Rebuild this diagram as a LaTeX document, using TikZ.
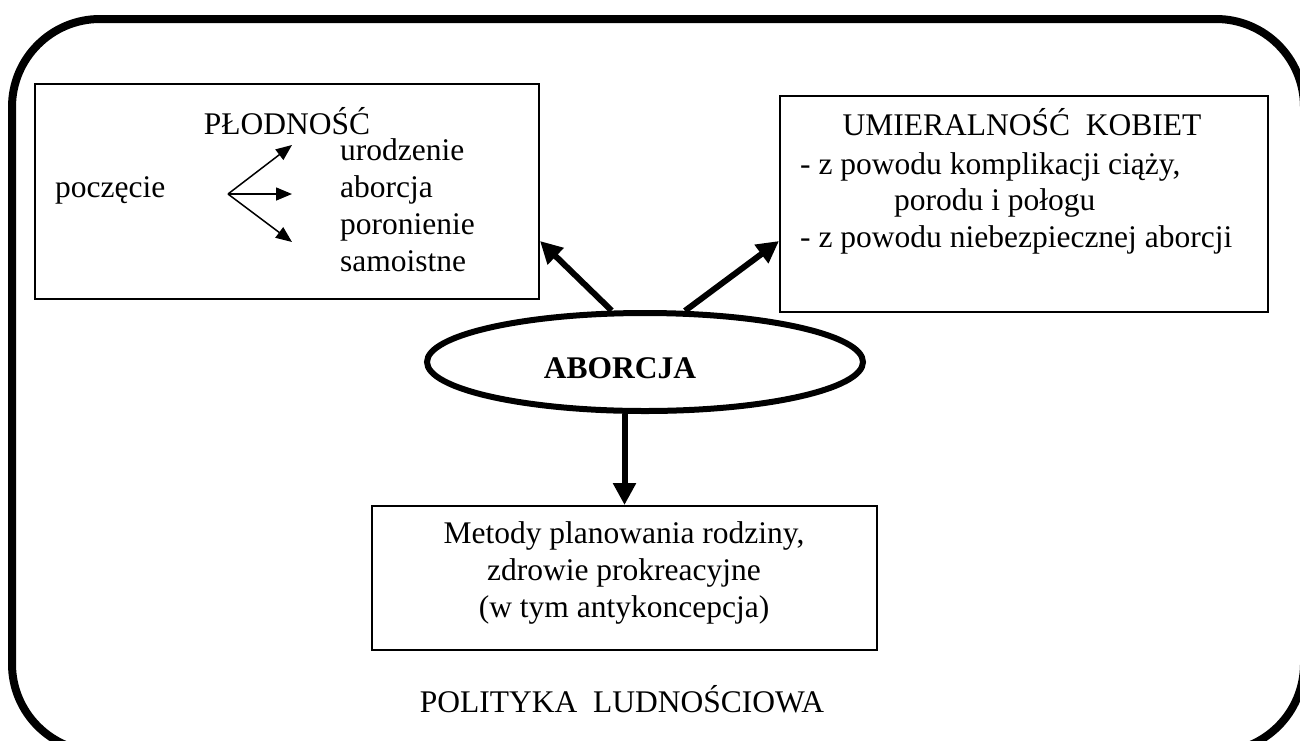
\documentclass[tikz,border=0pt]{standalone}
\usepackage{fontspec}
\setmainfont{Liberation Serif}
\usetikzlibrary{shapes.geometric,arrows.meta}
\begin{document}
\begin{tikzpicture}[x=1pt,y=-1pt,
  txt/.style={inner sep=0pt,font=\fontsize{31.5}{36}\selectfont},
  box/.style={draw,line width=2pt,inner sep=0pt},
  thickarrow/.style={line width=6pt,-{Triangle[length=22pt,width=22pt]}},
  thinarrow/.style={line width=1.5pt,-{Triangle[length=16pt,width=13pt]}}]
\clip (0,0) rectangle (1300,740);
\fill[white] (0,0) rectangle (1300,740);
% outer frame
\draw[line width=8pt,rounded corners=88pt] (12,19) rectangle (1304,752);
% boxes
\node[box,minimum width=504pt,minimum height=215pt] (pl) at (287,191.5) {};
\node[box,minimum width=488pt,minimum height=216pt] (um) at (1024,204) {};
\node[box,minimum width=505pt,minimum height=144pt] (me) at (624.5,578) {};
% ellipse
\node[draw,ellipse,line width=6pt,minimum width=436pt,minimum height=98pt,inner sep=0pt] (ab) at (645,362) {};
\node[txt,anchor=base,font=\fontsize{31.5}{36}\selectfont\bfseries] (abt) at (620,378) {ABORCJA};
% left box texts
\node[txt,anchor=base] (plt) at (287,134) {PŁODNOŚĆ};
\node[txt,anchor=base west] (pocz) at (55,197) {poczęcie};
\node[txt,anchor=base west] (u1) at (340,160) {urodzenie};
\node[txt,anchor=base west] (u2) at (340,197) {aborcja};
\node[txt,anchor=base west] (u3) at (340,234) {poronienie};
\node[txt,anchor=base west] (u4) at (340,271) {samoistne};
\coordinate (fork) at (228,194);
\coordinate (t1) at (292,145);
\coordinate (t2) at (292,194);
\coordinate (t3) at (292,242);
\draw[thinarrow] (fork) -- (t1);
\draw[thinarrow] (fork) -- (t2);
\draw[thinarrow] (fork) -- (t3);
% right box texts
\node[txt,anchor=base] (umt) at (1022,135) {UMIERALNOŚĆ\ \ KOBIET};
\node[txt,anchor=base west] (r1) at (800,174) {- z powodu komplikacji ciąży,};
\node[txt,anchor=base west] (r2) at (894,210) {porodu i połogu};
\node[txt,anchor=base west] (r3) at (800,247) {- z powodu niebezpiecznej aborcji};
% bottom box texts
\node[txt,anchor=base] (m1) at (624,543) {Metody planowania rodziny,};
\node[txt,anchor=base] (m2) at (624,580) {zdrowie prokreacyjne};
\node[txt,anchor=base] (m3) at (624,617) {(w tym antykoncepcja)};
\node[txt,anchor=base] (pol) at (622,712) {POLITYKA\ \ LUDNOŚCIOWA};
% thick arrows
\coordinate (ly) at (0,241);
\draw[thickarrow] (ab.123) -- (pl.east |- ly);
\draw[thickarrow] (ab.52) -- (um.west |- ly);
\draw[thickarrow] (ab.south -| me.north) -- (me.north);
\end{tikzpicture}
\end{document}
